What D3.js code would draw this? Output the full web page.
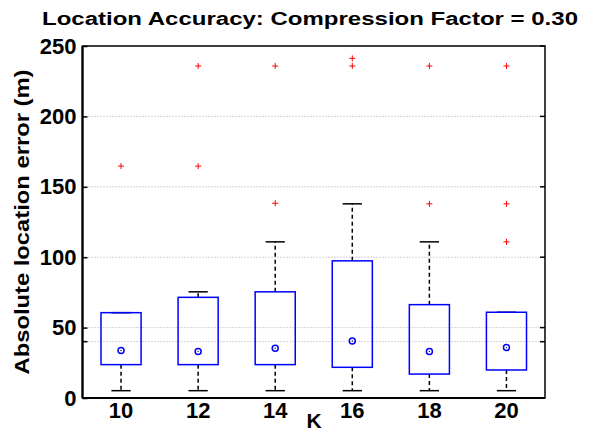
<!DOCTYPE html>
<html>
<head>
<meta charset="utf-8">
<script src="https://cdn.jsdelivr.net/npm/d3@7"></script>
<style>
  body { margin: 0; background: #fff; }
  text { font-family: "Liberation Sans", Arial, sans-serif; font-weight: bold; }
</style>
</head>
<body>
<div id="chart"></div>
<script>
// K values on the x axis
var categories = ['10', '12', '14', '16', '18', '20'];
// box statistics per K (metres)
var whiskerLow = [5.2, 5.2, 5.2, 5.2, 5.2, 5.2];
var q1 = [23.7, 23.7, 23.7, 21.8, 17.0, 19.9];
var medians = [33.8, 33.1, 35.3, 40.5, 33.1, 35.8];
var q3 = [60.6, 71.5, 75.4, 97.4, 66.3, 60.9];
var whiskerHigh = [60.6, 75.4, 110.9, 137.9, 110.9, 60.9];
var outliers = [
  [164.7],
  [164.7, 235.8],
  [138.3, 235.8],
  [235.8, 241.2],
  [137.9, 235.8],
  [110.9, 137.9, 235.8]
];
var yTicks = [0, 50, 100, 150, 200, 250];
var gridValues = [40, 50, 100, 150, 200];
var extraTicks = [40];

var chart = {
  el: '#chart',
  width: 592,
  height: 432,
  margin: { top: 46, right: 47, bottom: 34, left: 82.5 }
};

var plotW = chart.width - chart.margin.left - chart.margin.right,
    plotH = chart.height - chart.margin.top - chart.margin.bottom;

var svg = d3.select(chart.el).append('svg')
            .attr('width', chart.width)
            .attr('height', chart.height);

var g = svg.append('g')
           .attr('transform', 'translate(' + chart.margin.left + ',' + chart.margin.top + ')');

var x = d3.scaleBand()
          .domain(categories)
          .range([0, plotW]);

var y = d3.scaleLinear()
          .domain([0, 250])
          .range([plotH, 0]);

var boxW = x.bandwidth() * 0.52,
    capW = x.bandwidth() * 0.25;

// dotted grid
g.selectAll('.grid')
 .data(gridValues)
 .enter()
 .append('line')
 .attr('x1', 0)
 .attr('x2', plotW)
 .attr('y1', function(d) { return y(d); })
 .attr('y2', function(d) { return y(d); })
 .attr('stroke', '#a8a8a8')
 .attr('stroke-width', 1)
 .attr('stroke-dasharray', '1,2');

// boxes
var boxes = g.selectAll('.box')
             .data(categories)
             .enter()
             .append('g')
             .attr('transform', function(d) { return 'translate(' + (x(d) + x.bandwidth() / 2) + ',0)'; });

boxes.append('line')
     .attr('y1', function(d, i) { return y(q3[i]); })
     .attr('y2', function(d, i) { return y(whiskerHigh[i]); })
     .attr('stroke', '#000')
     .attr('stroke-width', 1.5)
     .attr('stroke-dasharray', '4,3');

boxes.append('line')
     .attr('y1', function(d, i) { return y(q1[i]); })
     .attr('y2', function(d, i) { return y(whiskerLow[i]); })
     .attr('stroke', '#000')
     .attr('stroke-width', 1.5)
     .attr('stroke-dasharray', '4,3');

[whiskerHigh, whiskerLow].forEach(function(arr) {
  boxes.append('line')
       .attr('x1', -capW / 2)
       .attr('x2', capW / 2)
       .attr('y1', function(d, i) { return y(arr[i]); })
       .attr('y2', function(d, i) { return y(arr[i]); })
       .attr('stroke', '#000')
       .attr('stroke-width', 1.5);
});

boxes.append('rect')
     .attr('x', -boxW / 2)
     .attr('width', boxW)
     .attr('y', function(d, i) { return y(q3[i]); })
     .attr('height', function(d, i) { return y(q1[i]) - y(q3[i]); })
     .attr('fill', 'none')
     .attr('stroke', '#0000ff')
     .attr('stroke-width', 1.5);

boxes.append('circle')
     .attr('cy', function(d, i) { return y(medians[i]); })
     .attr('r', 3)
     .attr('fill', 'none')
     .attr('stroke', '#0000ff')
     .attr('stroke-width', 1.5);

boxes.append('circle')
     .attr('cy', function(d, i) { return y(medians[i]); })
     .attr('r', 0.7)
     .attr('fill', '#000080');

// outliers as red plus signs
boxes.selectAll('.out')
     .data(function(d, i) { return outliers[i]; })
     .enter()
     .append('path')
     .attr('d', function(v) {
       var cy = y(v);
       return 'M-3,' + cy + 'H3M0,' + (cy - 3) + 'V' + (cy + 3);
     })
     .attr('stroke', '#ff0000')
     .attr('stroke-width', 1);

// frame
g.append('rect')
 .attr('width', plotW)
 .attr('height', plotH)
 .attr('fill', 'none')
 .attr('stroke', '#000')
 .attr('stroke-width', 1.5);

g.append('line')
 .attr('y1', 0).attr('y2', plotH)
 .attr('stroke', '#000').attr('stroke-width', 2.2);
g.append('line')
 .attr('x1', 0).attr('x2', plotW)
 .attr('y1', plotH).attr('y2', plotH)
 .attr('stroke', '#000').attr('stroke-width', 2.2);

// y axis
var yAxis = d3.axisLeft(y)
              .tickValues(yTicks)
              .tickSizeInner(-5)
              .tickSizeOuter(0)
              .tickPadding(6);

var ya = g.append('g').call(yAxis);
ya.select('.domain').remove();
ya.selectAll('.tick line').attr('stroke-width', 1.5);
ya.selectAll('text').attr('font-size', 22).attr('fill', '#000')
  .style('font-family', '"Liberation Sans", Arial, sans-serif');

// right side ticks and the unlabelled ones
var rightTicks = yTicks.concat(extraTicks);
g.selectAll('.rtick')
 .data(rightTicks)
 .enter()
 .append('line')
 .attr('x1', plotW - 5)
 .attr('x2', plotW)
 .attr('y1', function(d) { return y(d); })
 .attr('y2', function(d) { return y(d); })
 .attr('stroke', '#000')
 .attr('stroke-width', 1.5);

g.selectAll('.ltick')
 .data(extraTicks)
 .enter()
 .append('line')
 .attr('x1', 0)
 .attr('x2', 5)
 .attr('y1', function(d) { return y(d); })
 .attr('y2', function(d) { return y(d); })
 .attr('stroke', '#000')
 .attr('stroke-width', 1.5);

// x axis labels
var xAxis = d3.axisBottom(x)
              .tickSize(0)
              .tickPadding(4);

var xa = g.append('g')
          .attr('transform', 'translate(0,' + plotH + ')')
          .call(xAxis);
xa.select('.domain').remove();
xa.selectAll('text').attr('font-size', 22).attr('fill', '#000')
  .style('font-family', '"Liberation Sans", Arial, sans-serif');

// titles
svg.append('text')
   .attr('x', 310)
   .attr('y', 25)
   .attr('text-anchor', 'middle')
   .attr('font-size', 18)
   .attr('textLength', 536)
   .attr('lengthAdjust', 'spacingAndGlyphs')
   .text('Location Accuracy: Compression Factor = 0.30');

svg.append('text')
   .attr('transform', 'translate(29,' + (chart.margin.top + plotH / 2) + ') rotate(-90)')
   .attr('text-anchor', 'middle')
   .attr('font-size', 20)
   .attr('textLength', 305)
   .attr('lengthAdjust', 'spacingAndGlyphs')
   .text('Absolute location error (m)');

svg.append('text')
   .attr('x', 314)
   .attr('y', 428)
   .attr('text-anchor', 'middle')
   .attr('font-size', 21)
   .text('K');
</script>
</body>
</html>
